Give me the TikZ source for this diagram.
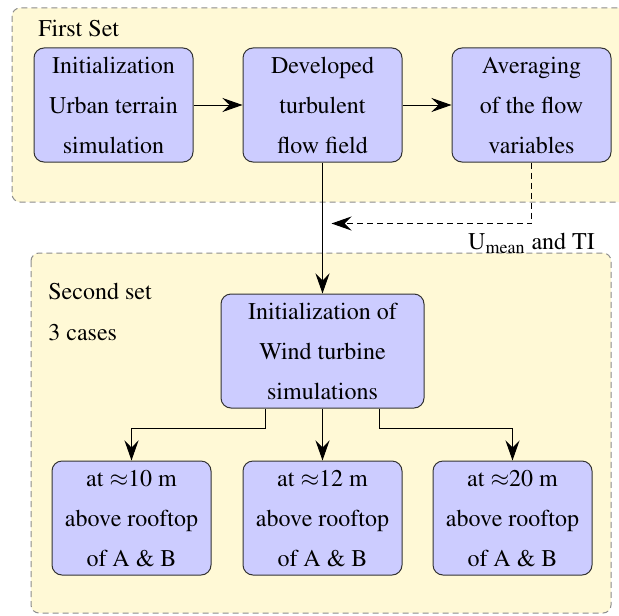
\documentclass[tikz,border=0pt]{standalone}
\usepackage[T1]{fontenc}
\usepackage{mathptmx}
\usepackage{xcolor}
\usetikzlibrary{arrows.meta,positioning,calc}
\definecolor{setfill}{RGB}{255,249,214}
\definecolor{setline}{RGB}{140,140,140}
\definecolor{stepfill}{RGB}{204,204,255}
\newcommand{\boxfont}{\fontsize{12pt}{20pt}\selectfont}

\begin{document}
\begin{tikzpicture}[x=0.5pt, y=-0.5pt, node distance=24.5pt,
        box/.style={rectangle,rounded corners=5pt,draw=black!80,fill=stepfill,line width=0.5pt,
          minimum width=79.5pt,minimum height=57pt,align=center,font=\boxfont,inner sep=2pt},
        setbox/.style={draw=setline,fill=setfill,dash pattern=on 3pt off 2pt,rounded corners=4pt,line width=0.5pt},
        setlabel/.style={anchor=base west,font=\boxfont,inner sep=0pt},
        arrow/.style={-{Stealth[length=10pt,width=7pt,inset=3.5pt]},line width=0.5pt},
        dasharrow/.style={arrow,dash pattern=on 3pt off 2pt}]
        \useasboundingbox (0,0) rectangle (619,615);
        % the two sets
        \draw[setbox] (12,8) rectangle (660,202);
        \draw[setbox] (31,253) rectangle (611,613);
        \node[setlabel] (first) at (38,37) {First Set};
        \node[setlabel] (second) at (48,299) {Second set};
        \node[setlabel] (cases) at (48,340) {3 cases};
        % first set
        \node[box] (init) at (113.5,105) {Initialization\\Urban terrain\\simulation};
        \node[box,right=of init] (devel) {Developed\\turbulent\\flow field};
        \node[box,right=of devel] (avg) {Averaging\\of the flow\\variables};
        % second set
        \node[box,minimum width=101.5pt,below=65.5pt of devel] (wind) {Initialization of\\Wind turbine\\simulations};
        \node[box,below=26pt of wind] (h12) {at $\approx$12 m\\above rooftop\\of A \& B};
        \node[box,left=15.5pt of h12] (h10) {at $\approx$10 m\\above rooftop\\of A \& B};
        \node[box,right=15pt of h12] (h20) {at $\approx$20 m\\above rooftop\\of A \& B};
        % connectors
        \draw[arrow] (init) -- (devel);
        \draw[arrow] (devel) -- (avg);
        \draw[arrow] (devel) -- (wind);
        \draw[dasharrow,shorten >=4.5pt] (avg.south) -- ++(0,-30.5pt) coordinate (turn)
          node[anchor=base,yshift=-13pt,font=\boxfont,inner sep=0pt] (umean) {U\textsubscript{mean} and TI}
          -- (turn -| devel.south);
        \draw[arrow] ([xshift=-28.5pt]wind.south) -- ++(0,-10pt) -| (h10);
        \draw[arrow] (wind) -- (h12);
        \draw[arrow] ([xshift=28.5pt]wind.south) -- ++(0,-10pt) -| (h20);
      \end{tikzpicture}
\end{document}
